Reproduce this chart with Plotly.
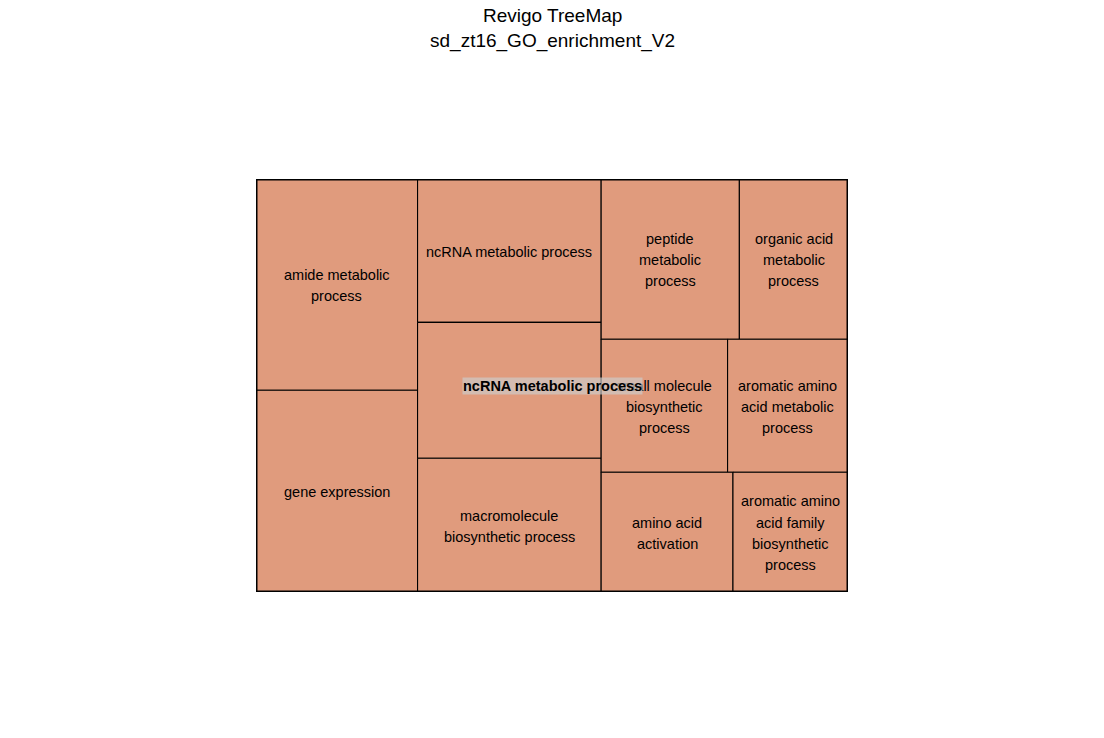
import plotly.graph_objects as go

# ---- data ----
terms = [
    "amide metabolic process",
    "gene expression",
    "ncRNA metabolic process",
    "ncRNA processing",
    "macromolecule biosynthetic process",
    "peptide metabolic process",
    "organic acid metabolic process",
    "small molecule biosynthetic process",
    "aromatic amino acid metabolic process",
    "amino acid activation",
    "aromatic amino acid family biosynthetic process",
]
values = [34188, 32635, 26367, 24969, 24601, 22186, 17441, 16838, 16040, 15800, 13789]
# displayed (wrapped) labels; the one hidden under the group label is blank
labels = [
    "amide metabolic\nprocess",
    "gene expression",
    "ncRNA metabolic process",
    "",
    "macromolecule\nbiosynthetic process",
    "peptide\nmetabolic\nprocess",
    "organic acid\nmetabolic\nprocess",
    "small molecule\nbiosynthetic\nprocess",
    "aromatic amino\nacid metabolic\nprocess",
    "amino acid\nactivation",
    "aromatic amino\nacid family\nbiosynthetic\nprocess",
]
group_label = "ncRNA metabolic process"
title_lines = ["Revigo TreeMap", "sd_zt16_GO_enrichment_V2"]

# ---- layout constants (page has an 8px body margin) ----
FIG_W, FIG_H = 1088, 722
W, H = 593, 413
ML, MT = 247.5, 171
MR = FIG_W - ML - W
MB = FIG_H - MT - H
FILL = "#E09B7D"
FONT = "Liberation Sans, Arial, sans-serif"
LINE_H = 21.2


def aspect(a, b):
    return max(a / b, b / a)


def pivot_size(items, x, y, w, h, out):
    """Pivot-by-size treemap layout (items sorted by size desc, y grows downward)."""
    if not items:
        return
    if len(items) == 1:
        out[items[0][0]] = (x, y, w, h)
        return
    p = items[0]
    rest = items[1:]
    best = None
    for k in range(0, len(rest) + 1):
        s = p[1] + sum(v for _, v in rest[:k])
        if w >= h:
            cw = s / h
            ph = p[1] / cw
            r = aspect(cw, ph)
        else:
            rh = s / w
            pw = p[1] / rh
            r = aspect(pw, rh)
        if best is None or r < best[0]:
            best = (r, k, s)
    _, k, s = best
    l2, l3 = rest[:k], rest[k:]
    if w >= h:
        cw = s / h
        ph = p[1] / cw
        out[p[0]] = (x, y, cw, ph)
        pivot_size(l2, x, y + ph, cw, h - ph, out)
        pivot_size(l3, x + cw, y, w - cw, h, out)
    else:
        rh = s / w
        pw = p[1] / rh
        out[p[0]] = (x, y, pw, rh)
        pivot_size(l2, x + pw, y, w - pw, rh, out)
        pivot_size(l3, x, y + rh, w, h - rh, out)


total = sum(values)
scaled = [v * W * H / total for v in values]
order = sorted(range(len(values)), key=lambda i: -scaled[i])
rects = {}
pivot_size([(i, scaled[i]) for i in order], 0, 0, W, H, rects)

fig = go.Figure()
annotations = []
for i, t in enumerate(terms):
    x0, y0, w, h = rects[i]
    x1, y1 = x0 + w, y0 + h
    fig.add_trace(go.Scatter(
        x=[x0, x1, x1, x0, x0], y=[y0, y0, y1, y1, y0],
        mode="lines", fill="toself", fillcolor=FILL,
        line=dict(color="black", width=1.1), hoverinfo="text", text=t,
        showlegend=False, cliponaxis=False,
    ))
    lines = labels[i].split("\n") if labels[i] else []
    n = len(lines)
    for j, ln in enumerate(lines):
        annotations.append(dict(
            x=x0 + w / 2, y=y0 + h / 2, xref="x", yref="y",
            text=ln, showarrow=False, xanchor="center", yanchor="middle",
            yshift=-((j - (n - 1) / 2) * LINE_H) - 1,
            font=dict(family=FONT, size=14.5, color="black"),
        ))

# outer group border
fig.add_trace(go.Scatter(
    x=[0, W, W, 0, 0], y=[0, 0, H, H, 0], mode="lines",
    line=dict(color="black", width=3), hoverinfo="skip",
    showlegend=False, cliponaxis=False,
))

# group label
annotations.append(dict(
    x=W / 2, y=H / 2, xref="x", yref="y", text="<b>" + group_label + "</b>",
    showarrow=False, xanchor="center", yanchor="middle",
    bgcolor="rgba(204,204,204,0.667)", borderpad=0,
    font=dict(family=FONT, size=14.5, color="black"),
))

# title lines (pixel rows measured from top of the figure)
title_y_px = [7, 33]
for ln, ypx in zip(title_lines, title_y_px):
    annotations.append(dict(
        x=0.5, y=1 + (MT - ypx) / H, xref="paper", yref="paper",
        text=ln, showarrow=False, xanchor="center", yanchor="middle",
        font=dict(family=FONT, size=19, color="black"),
    ))

fig.update_layout(
    width=FIG_W, height=FIG_H,
    margin=dict(l=ML, r=MR, t=MT, b=MB, pad=0),
    paper_bgcolor="white", plot_bgcolor="white",
    xaxis=dict(range=[0, W], visible=False, fixedrange=True),
    yaxis=dict(range=[H, 0], visible=False, fixedrange=True),
    annotations=annotations,
    showlegend=False,
)

fig.write_html("out.html")
